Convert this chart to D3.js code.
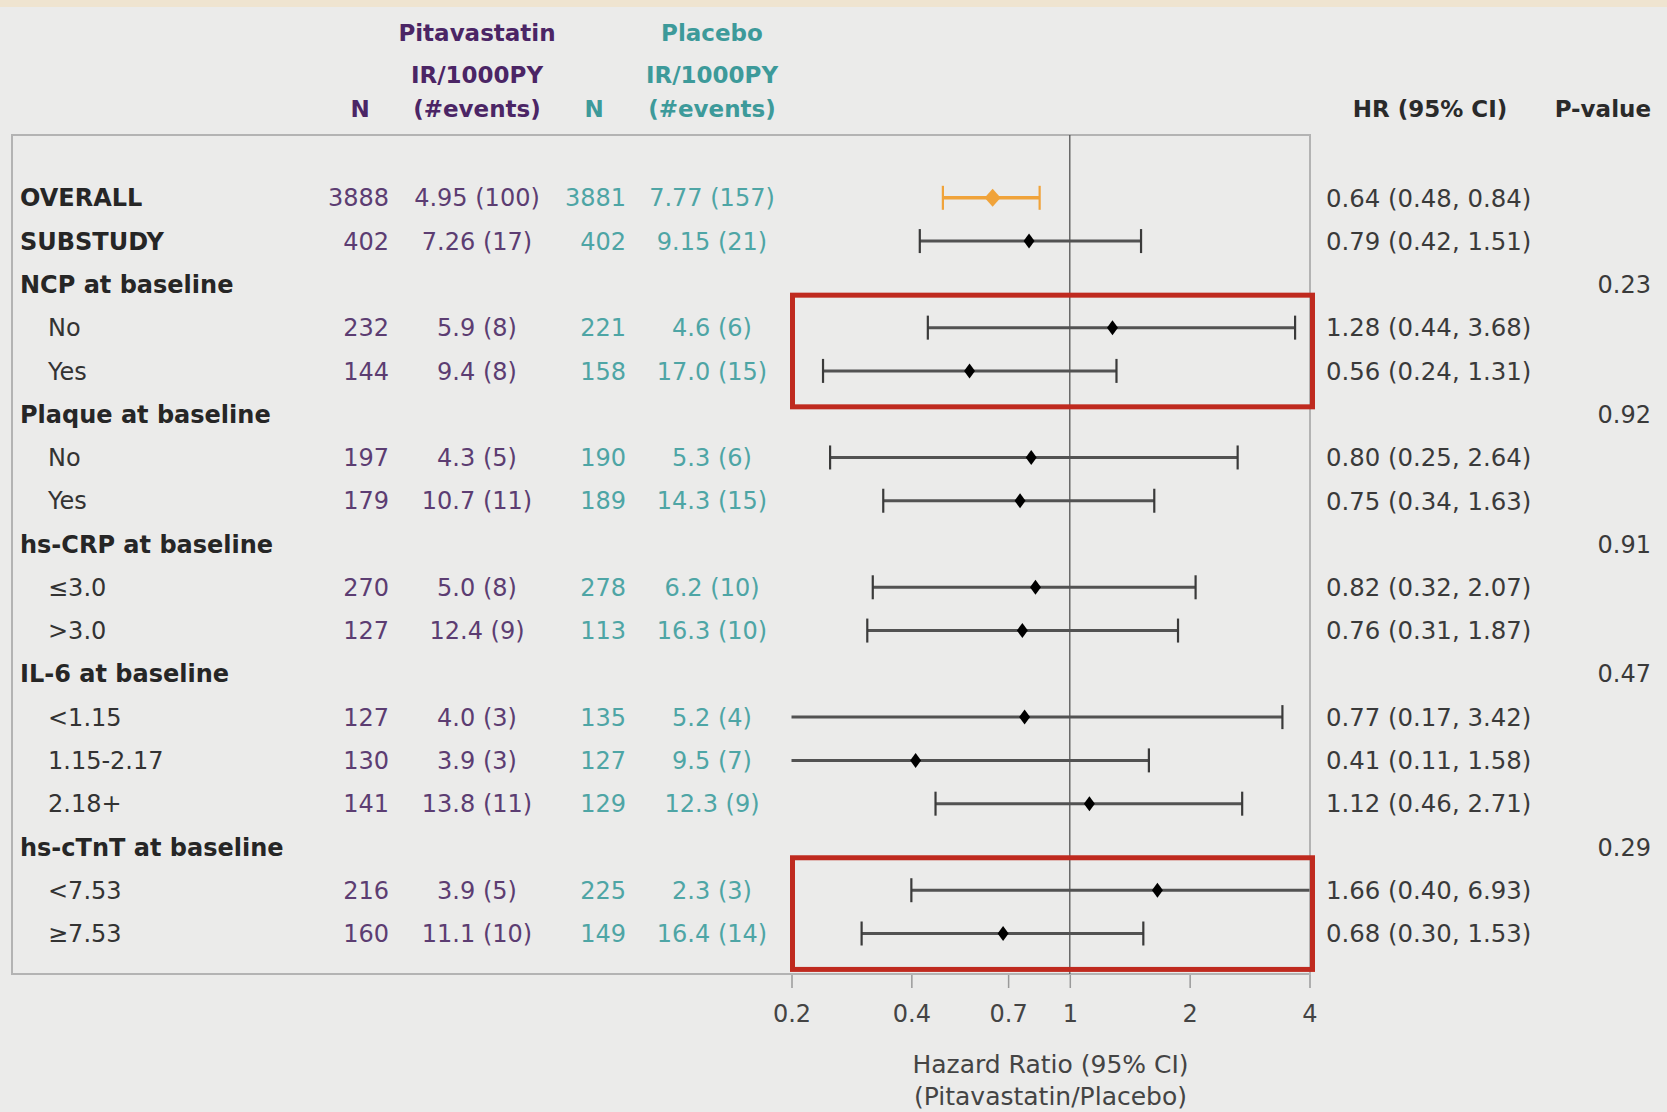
<!DOCTYPE html>
<html>
<head>
<meta charset="utf-8">
<script src="https://cdn.jsdelivr.net/npm/d3@7"></script>
<style>
  html, body { margin: 0; padding: 0; background: #ebebea; }
  svg { display: block; }
  text { font-family: "DejaVu Sans", sans-serif; }
</style>
</head>
<body>
<script>
// ---- data ----
const labels = ["OVERALL","SUBSTUDY","NCP at baseline","No","Yes","Plaque at baseline","No","Yes",
  "hs-CRP at baseline","≤3.0",">3.0","IL-6 at baseline","<1.15","1.15-2.17","2.18+",
  "hs-cTnT at baseline","<7.53","≥7.53"];
const isSub = [0,0,0,1,1,0,1,1,0,1,1,0,1,1,1,0,1,1];
const pitN  = [3888,402,null,232,144,null,197,179,null,270,127,null,127,130,141,null,216,160];
const pitIR = ["4.95 (100)","7.26 (17)",null,"5.9 (8)","9.4 (8)",null,"4.3 (5)","10.7 (11)",null,
  "5.0 (8)","12.4 (9)",null,"4.0 (3)","3.9 (3)","13.8 (11)",null,"3.9 (5)","11.1 (10)"];
const plaN  = [3881,402,null,221,158,null,190,189,null,278,113,null,135,127,129,null,225,149];
const plaIR = ["7.77 (157)","9.15 (21)",null,"4.6 (6)","17.0 (15)",null,"5.3 (6)","14.3 (15)",null,
  "6.2 (10)","16.3 (10)",null,"5.2 (4)","9.5 (7)","12.3 (9)",null,"2.3 (3)","16.4 (14)"];
const hr = [0.64,0.79,null,1.28,0.56,null,0.80,0.75,null,0.82,0.76,null,0.77,0.41,1.12,null,1.66,0.68];
const lo = [0.48,0.42,null,0.44,0.24,null,0.25,0.34,null,0.32,0.31,null,0.17,0.11,0.46,null,0.40,0.30];
const hi = [0.84,1.51,null,3.68,1.31,null,2.64,1.63,null,2.07,1.87,null,3.42,1.58,2.71,null,6.93,1.53];
const pval = [null,null,"0.23",null,null,"0.92",null,null,"0.91",null,null,"0.47",null,null,null,"0.29",null,null];
const tickVals = [0.2,0.4,0.7,1,2,4];
const highlightGroups = [[3,4],[16,17]];

// ---- layout ----
const W = 1667, H = 1112;
const purpleH = "#4b2565", purple = "#5c3d72", tealH = "#3d9a9a", teal = "#4ea5a5";
const fs = 24;

const svg = d3.select("body").append("svg").attr("width", W).attr("height", H);
svg.append("rect").attr("width", W).attr("height", H).attr("fill", "#ebebea");
svg.append("rect").attr("width", W).attr("height", 7).attr("fill", "#efe4d0");

const x = d3.scaleLog().domain([0.2, 4]).range([791.5, 1309.5]);
const y = d3.scaleLinear().domain([0, labels.length - 1]).range([197.8, 933.5]);
const step = y(1) - y(0);
const boxTop = 135, boxBot = 974;

// panel box
svg.append("rect").attr("x", 12).attr("y", boxTop).attr("width", 1310 - 12).attr("height", boxBot - boxTop)
  .attr("fill", "none").attr("stroke", "#b3b3b3").attr("stroke-width", 2);

// reference line at HR = 1
svg.append("line").attr("x1", x(1)).attr("x2", x(1)).attr("y1", boxTop).attr("y2", boxBot)
  .attr("stroke", "#555").attr("stroke-width", 1.3);

// headers
function hdr(t, cx, cy, col, anchor) {
  svg.append("text").attr("x", cx).attr("y", cy).attr("dy", "0.36em")
    .attr("text-anchor", anchor || "middle").attr("font-size", 23).attr("font-weight", "bold")
    .attr("fill", col).text(t);
}
hdr("Pitavastatin", 477, 33, purpleH);
hdr("IR/1000PY", 477, 75, purpleH);
hdr("(#events)", 477, 109, purpleH);
hdr("N", 360, 109, purpleH);
hdr("Placebo", 712, 33, tealH);
hdr("IR/1000PY", 712, 75, tealH);
hdr("(#events)", 712, 109, tealH);
hdr("N", 594, 109, tealH);
hdr("HR (95% CI)", 1430, 109, "#2a2a2a");
hdr("P-value", 1651, 109, "#2a2a2a", "end");

// rows
const rows = labels.map((l, i) => ({ i, l }));
const g = svg.append("g");
function col(xpos, anchor, fill, fn, weight, size) {
  g.selectAll(null).data(rows.filter(d => fn(d.i) != null)).join("text")
    .attr("x", d => typeof xpos === "function" ? xpos(d.i) : xpos)
    .attr("y", d => y(d.i)).attr("dy", "0.36em")
    .attr("text-anchor", anchor).attr("font-size", size || fs)
    .attr("font-weight", weight ? (d => weight(d.i)) : "normal")
    .attr("fill", typeof fill === "function" ? (d => fill(d.i)) : fill)
    .text(d => fn(d.i));
}
col(i => isSub[i] ? 48 : 20, "start", i => isSub[i] ? "#333" : "#262626", i => labels[i], i => isSub[i] ? "normal" : "bold");
col(389, "end", purple, i => pitN[i]);
col(477, "middle", purple, i => pitIR[i]);
col(626, "end", teal, i => plaN[i]);
col(712, "middle", teal, i => plaIR[i]);
col(1326, "start", "#3a3a3a", i => hr[i] == null ? null : `${hr[i].toFixed(2)} (${lo[i].toFixed(2)}, ${hi[i].toFixed(2)})`, null, 24.4);
col(1651, "end", "#3a3a3a", i => pval[i]);

// CI marks
const [dmin, dmax] = x.domain();
const est = rows.filter(d => hr[d.i] != null);
const mk = svg.append("g");
est.forEach(d => {
  const i = d.i, yy = y(i);
  const overall = i === 0;
  const c = overall ? "#f0a33a" : "#3a3a3a";
  const lx = x(Math.max(lo[i], dmin)), rx = x(Math.min(hi[i], dmax));
  mk.append("line").attr("x1", lx).attr("x2", rx).attr("y1", yy).attr("y2", yy)
    .attr("stroke", overall ? c : "#525252").attr("stroke-width", overall ? 3.6 : 3);
  const capH = 12;
  if (lo[i] >= dmin) mk.append("line").attr("x1", lx).attr("x2", lx).attr("y1", yy - capH).attr("y2", yy + capH)
    .attr("stroke", c).attr("stroke-width", 2.2);
  if (hi[i] <= dmax) mk.append("line").attr("x1", rx).attr("x2", rx).attr("y1", yy - capH).attr("y2", yy + capH)
    .attr("stroke", c).attr("stroke-width", 2.2);
  const hw = overall ? 8 : 5.5, hh = overall ? 9 : 7.5;
  const cx = x(hr[i]);
  mk.append("path").attr("d", `M${cx},${yy - hh}L${cx + hw},${yy}L${cx},${yy + hh}L${cx - hw},${yy}Z`)
    .attr("fill", overall ? c : "#000");
});

// highlight boxes
highlightGroups.forEach(([a, b]) => {
  const top = y(a) - 0.75 * step, bot = y(b) + 0.83 * step;
  svg.append("rect").attr("x", x(dmin) + 1).attr("y", top)
    .attr("width", x(dmax) + 3 - x(dmin) - 1).attr("height", bot - top)
    .attr("fill", "none").attr("stroke", "#bf2a1f").attr("stroke-width", 5);
});

// axis
const axis = d3.axisBottom(x).tickValues(tickVals).tickFormat(d => String(d)).tickSize(13).tickPadding(17);
const ax = svg.append("g").attr("transform", `translate(0,${boxBot + 1})`).call(axis);
ax.select(".domain").remove();
ax.selectAll(".tick line").attr("stroke", "#9a9a9a").attr("stroke-width", 1.5);
ax.selectAll(".tick text").attr("font-size", fs).attr("fill", "#444").attr("font-family", "DejaVu Sans, sans-serif");

const midX = (x.range()[0] + x.range()[1]) / 2;
svg.append("text").attr("x", midX).attr("y", 1064).attr("dy", "0.36em").attr("text-anchor", "middle")
  .attr("font-size", 25).attr("fill", "#444").text("Hazard Ratio (95% CI)");
svg.append("text").attr("x", midX).attr("y", 1096).attr("dy", "0.36em").attr("text-anchor", "middle")
  .attr("font-size", 25).attr("fill", "#444").text("(Pitavastatin/Placebo)");
</script>
</body>
</html>
